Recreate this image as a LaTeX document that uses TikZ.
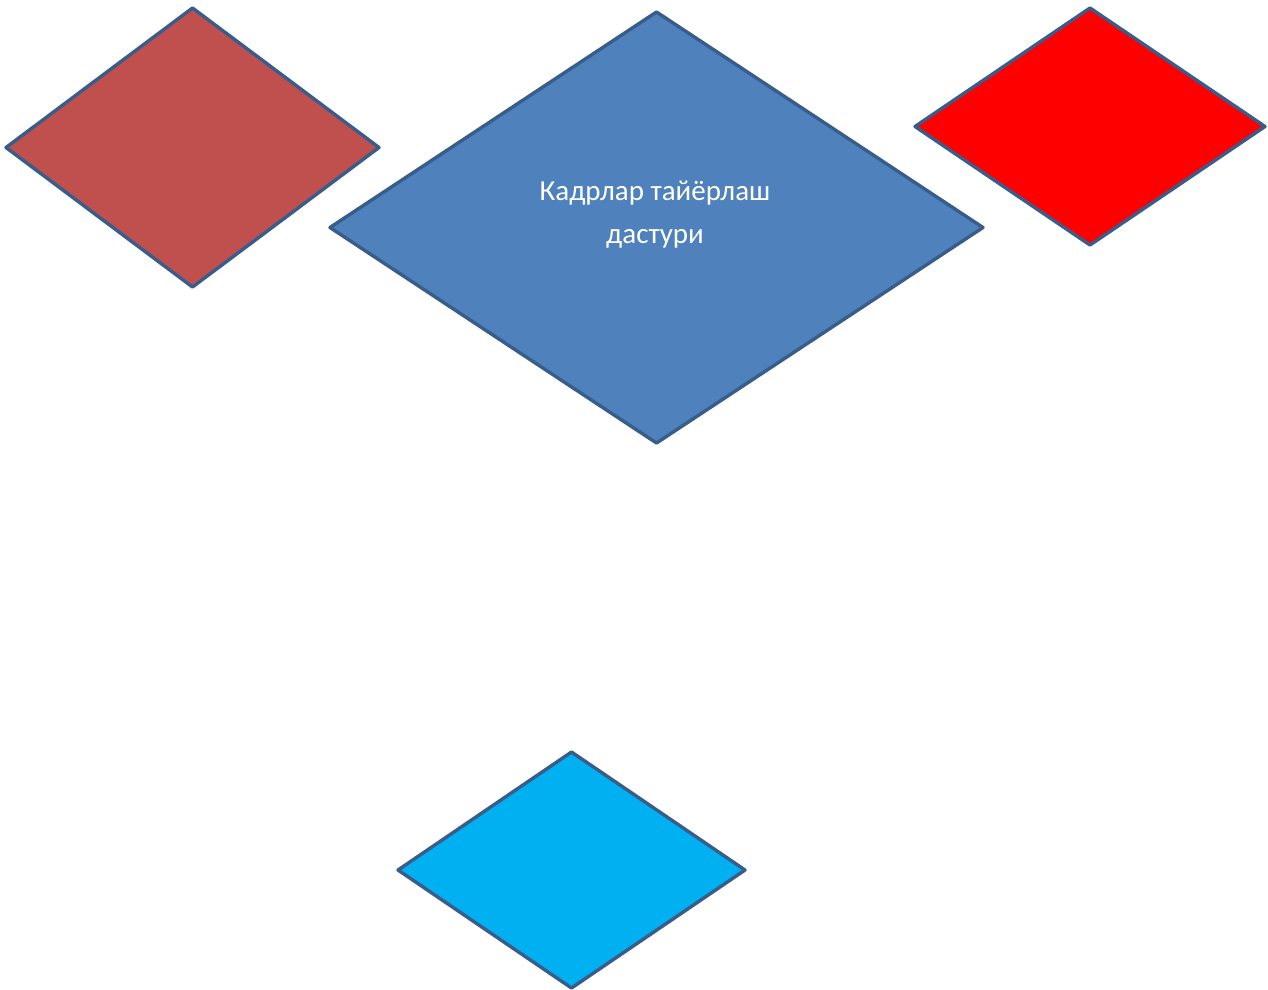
\documentclass[tikz,border=0pt]{standalone}
\usepackage{fontspec}
\setmainfont{Carlito}
\usetikzlibrary{shapes.geometric}
\definecolor{brownred}{HTML}{C0504D}
\definecolor{officeblue}{HTML}{4F81BD}
\definecolor{edgeblue}{HTML}{385D8A}
\definecolor{brightcyan}{HTML}{00B0F0}
\begin{document}
\begin{tikzpicture}[x=1pt,y=-1pt,
  dia/.style={diamond, draw=edgeblue, line width=3.4pt, line join=round, inner sep=0pt, outer sep=0pt},
  lbl/.style={text=white, font=\fontsize{29}{43}\selectfont, align=center}]
\useasboundingbox (0,0) rectangle (1268,989);
\node[dia, fill=brownred, minimum width=373pt, minimum height=279pt] (d1) at (192.5,147.5) {};
\node[dia, fill=officeblue, minimum width=653pt, minimum height=431pt] (d2) at (656.5,227.5) {};
\node[dia, fill=red, minimum width=350pt, minimum height=237pt] (d3) at (1090,126.5) {};
\node[dia, fill=brightcyan, minimum width=347pt, minimum height=236pt] (d4) at (571.5,870) {};
\node[lbl] (t2) at (655,215) {Кадрлар тайёрлаш\\дастури};
\end{tikzpicture}
\end{document}
